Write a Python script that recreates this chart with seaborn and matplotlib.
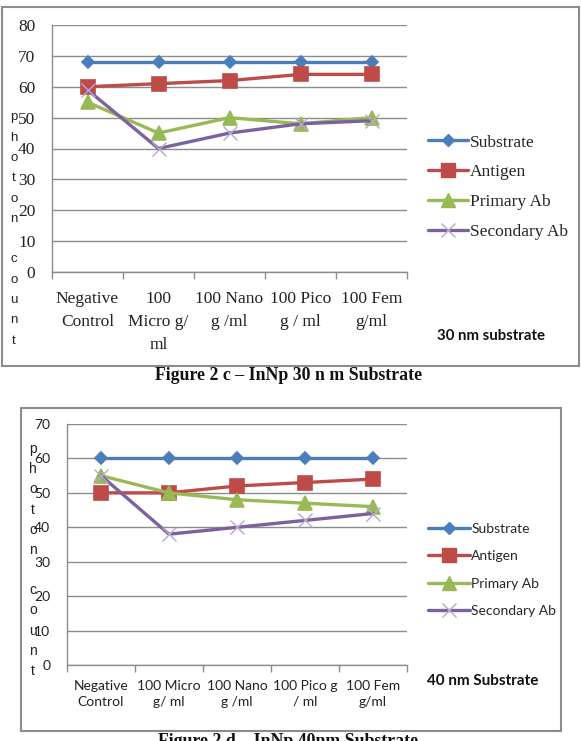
import matplotlib
matplotlib.use("Agg")
import matplotlib.pyplot as plt
from matplotlib.patches import Rectangle
from matplotlib.lines import Line2D
import seaborn as sns
import pandas as pd

categories_c = ["Negative\nControl", "100\nMicro g/\nml", "100 Nano\ng /ml", "100 Pico\ng / ml", "100 Fem\ng/ml"]
categories_d = ["Negative\nControl", "100 Micro\ng/ ml", "100 Nano\ng /ml", "100 Pico g\n/ ml", "100 Fem\ng/ml"]
series = ["Substrate", "Antigen", "Primary Ab", "Secondary Ab"]

substrate_30 = [68, 68, 68, 68, 68]
antigen_30 = [60, 61, 62, 64, 64]
primary_30 = [55, 45, 50, 48, 50]
secondary_30 = [59, 40, 45, 48, 49]

substrate_40 = [60, 60, 60, 60, 60]
antigen_40 = [50, 50, 52, 53, 54]
primary_40 = [55, 50, 48, 47, 46]
secondary_40 = [55, 38, 40, 42, 44]

colors = {"Substrate": "#4A7EBB", "Antigen": "#BE4B48", "Primary Ab": "#98B954", "Secondary Ab": "#7D60A0"}
markers = {"Substrate": "D", "Antigen": "s", "Primary Ab": "^", "Secondary Ab": "x"}
msize = {"Substrate": 6.5, "Antigen": 9.5, "Primary Ab": 9.5, "Secondary Ab": 9.5}

sns.set_style("white")

W, H = 582, 741
fig = plt.figure(figsize=(W / 100, H / 100), dpi=100)


def build_df(cats, vals):
    rows = []
    for s, v in zip(series, vals):
        for i, (c, y) in enumerate(zip(cats, v)):
            rows.append({"pos": i, "cat": c, "series": s, "value": y})
    return pd.DataFrame(rows)


def draw(ax, df, cats, ymax, tickfont, tickfs, xpad, ylinesp):
    for s in series:
        d = df[df.series == s]
        sns.lineplot(data=d, x="pos", y="value", ax=ax, color=colors[s], marker=markers[s],
                     markersize=msize[s], linewidth=2.4, markeredgewidth=1.2 if s != "Secondary Ab" else 1.0,
                     markeredgecolor=colors[s] if s != "Secondary Ab" else "#B7A8CC",
                     legend=False, label=s)
    ax.set_xlim(-0.5, len(cats) - 0.5)
    ax.set_ylim(0, ymax)
    ax.set_yticks(range(0, ymax + 1, 10))
    ax.set_xticks(range(len(cats)))
    ax.set_xticklabels(cats, fontfamily=tickfont, fontsize=tickfs, linespacing=ylinesp, color="#222222")
    ax.set_xticks([i - 0.5 for i in range(len(cats) + 1)], minor=True)
    ax.tick_params(axis="x", which="major", length=0, pad=xpad)
    ax.tick_params(axis="x", which="minor", length=5, color="#8c8c8c", width=1, direction="out", bottom=True)
    ax.tick_params(axis="y", length=0, pad=12, labelsize=tickfs)
    for lab in ax.get_yticklabels():
        lab.set_fontfamily(tickfont)
        lab.set_color("#222222")
    ax.grid(axis="y", color="#8c8c8c", linewidth=1)
    ax.grid(axis="x", visible=False)
    ax.set_axisbelow(True)
    for sp in ["top", "right"]:
        ax.spines[sp].set_visible(False)
    for sp in ["left", "bottom"]:
        ax.spines[sp].set_color("#8c8c8c")
        ax.spines[sp].set_linewidth(1)
    ax.set_xlabel("")
    ax.set_ylabel("")


def fax(l, t, r, b):
    return fig.add_axes([l / W, 1 - b / H, (r - l) / W, (b - t) / H])


# frames
fig.add_artist(Rectangle((2 / W, 1 - 366 / H), 577 / W, 359 / H, transform=fig.transFigure,
                         fill=False, edgecolor="#8c8c8c", linewidth=1.5))
fig.add_artist(Rectangle((21 / W, 1 - 731 / H), 540 / W, 323 / H, transform=fig.transFigure,
                         fill=False, edgecolor="#8c8c8c", linewidth=1.5))

ax1 = fax(52, 25, 407, 272)
df1 = build_df(categories_c, [substrate_30, antigen_30, primary_30, secondary_30])
draw(ax1, df1, categories_c, 80, "Liberation Serif", 12.5, 14, 1.55)

ax2 = fax(67, 424, 407, 665)
df2 = build_df(categories_d, [substrate_40, antigen_40, primary_40, secondary_40])
draw(ax2, df2, categories_d, 70, "Lato", 10, 11, 1.35)


def handles():
    hs = []
    for s in series:
        hs.append(Line2D([], [], color=colors[s], marker=markers[s], markersize=msize[s], linewidth=2.4,
                         markeredgecolor=colors[s] if s != "Secondary Ab" else "#B7A8CC"))
    return hs


fig.legend(handles(), series, loc="center left", bbox_to_anchor=(428 / W, 1 - 187 / H), frameon=False,
           prop={"family": "Liberation Serif", "size": 12.5}, handlelength=2.3, handletextpad=0.1,
           labelspacing=0.78, borderpad=0, borderaxespad=0)
fig.legend(handles(), series, loc="center left", bbox_to_anchor=(428 / W, 1 - 570 / H), frameon=False,
           prop={"family": "Lato", "size": 10}, handlelength=3.0, handletextpad=0.1,
           labelspacing=1.12, borderpad=0, borderaxespad=0)

# vertical letter labels
fig.text(14 / W, 1 - 229 / H, "p\nh\no\nt\no\nn\n\nc\no\nu\nn\nt", ha="center", va="center",
         fontfamily="Liberation Sans", fontsize=9.5, linespacing=1.92, color="#222222")
fig.text(33 / W, 1 - 560 / H, "p\nh\no\nt\no\nn\n\nc\no\nu\nn\nt", ha="center", va="center",
         fontfamily="Liberation Sans", fontsize=10, linespacing=1.56, color="#222222")

fig.text(437 / W, 1 - 336 / H, "30 nm substrate", ha="left", va="center", fontfamily="Lato",
         fontweight="bold", fontsize=10.8, color="#111111")
fig.text(427 / W, 1 - 681 / H, "40 nm Substrate", ha="left", va="center", fontfamily="Lato",
         fontweight="bold", fontsize=11, color="#111111")

fig.text(289 / W, 1 - 375 / H, "Figure 2 c \u2013 InNp 30 n m Substrate", ha="center", va="center",
         fontfamily="Liberation Serif", fontweight="bold", fontsize=12.8, color="#111111")
fig.text(288 / W, 1 - 733 / H, "Figure 2 d \u2013 InNp 40nm Substrate", ha="center", va="top",
         fontfamily="Liberation Serif", fontweight="bold", fontsize=12.8, color="#111111")

fig.savefig("out.png", dpi=100, facecolor="white")
